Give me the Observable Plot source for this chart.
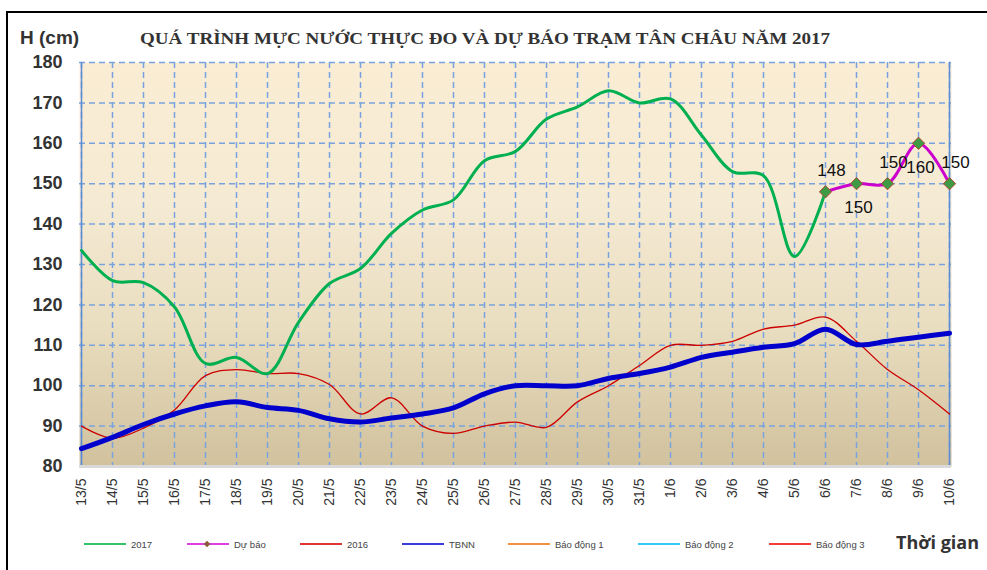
<!DOCTYPE html>
<html><head><meta charset="utf-8">
<script src="https://cdn.jsdelivr.net/npm/d3@7"></script>
<script src="https://cdn.jsdelivr.net/npm/@observablehq/plot@0.6"></script>
<style>body{margin:0;background:#fff;} svg{display:block}</style>
</head><body><div id="chart"></div>
<script>
const dates = ["13/5","14/5","15/5","16/5","17/5","18/5","19/5","20/5","21/5","22/5","23/5","24/5","25/5","26/5","27/5","28/5","29/5","30/5","31/5","1/6","2/6","3/6","4/6","5/6","6/6","7/6","8/6","9/6","10/6"];
const dates2017 = dates.slice(0, 25);
const h2017 = [133.5,126,125.5,119.5,105.5,107,103,115.7,125.3,129,137.7,143.5,146,155.7,158,166,169,173,170,171,162,153,152,132,148];
const forecastDates = ["6/6","7/6","8/6","9/6","10/6"];
const forecast = [148,150,150,160,150];
const h2016 = [90,87,89.5,94,102.5,104,103,103,100.3,93,97,90,88.2,90,91,89.7,96,100,105,110,110,111,114,115,117,111,104,99,93];
const tbnn = [84.4,87.2,90.4,93,95,96,94.6,93.9,91.8,91,92,93,94.5,98,100,100,100,101.8,103,104.6,107,108.3,109.5,110.4,114,110.2,111,112,113];
const yTicks = [80,90,100,110,120,130,140,150,160,170,180];
const legendLabels = ["2017","Dự báo","2016","TBNN","Báo động 1","Báo động 2","Báo động 3"];
const legendColors = ["#33C46A","#E040E0","#E03535","#3B3BD9","#F29240","#33C8F5","#F53A3A"];
const titleText = "QUÁ TRÌNH MỰC NƯỚC THỰC ĐO VÀ DỰ BÁO TRẠM TÂN CHÂU NĂM 2017";

const s2017 = dates2017.map((d,i)=>({d, v:h2017[i]}));
const sF = forecastDates.map((d,i)=>({d, v:forecast[i], i}));
const s2016 = dates.map((d,i)=>({d, v:h2016[i]}));
const sT = dates.map((d,i)=>({d, v:tbnn[i]}));

const gridColor = "#79A2DE";
const svg = Plot.plot({
  width: 987, height: 570,
  marginLeft: 79, marginRight: 36, marginTop: 62, marginBottom: 104,
  style: {fontFamily: "'Liberation Sans', Arial, sans-serif", background: "transparent", overflow: "visible"},
  x: {type: "point", domain: dates, padding: 0, label: null},
  y: {domain: [80,180], label: null},
  marks: [
    Plot.frame({fill: "url(#bgGrad)", stroke: null}),
    Plot.ruleY(yTicks, {stroke: gridColor, strokeWidth: 1.5, strokeDasharray: "6,4"}),
    Plot.ruleX(dates, {stroke: gridColor, strokeWidth: 1.5, strokeDasharray: "6,4"}),
    Plot.ruleX([dates[0], dates[dates.length-1]], {stroke: "#5B8BD6", strokeWidth: 1.5}),
    Plot.ruleY([80], {stroke: "#D9D9D9", strokeWidth: 3}),
    Plot.axisY(yTicks, {tickSize: 0, tickPadding: 17, fontSize: 18, fontWeight: "bold", fill: "#333", label: null}),
    Plot.axisX(dates, {tickSize: 0, tickRotate: -90, tickPadding: 12, fontSize: 14, fill: "#333", label: null}),
    Plot.line(s2016, {x: "d", y: "v", stroke: "#CC0000", strokeWidth: 1.3, curve: "catmull-rom"}),
    Plot.line(sT, {x: "d", y: "v", stroke: "#0000CC", strokeWidth: 5, curve: "catmull-rom"}),
    Plot.line(s2017, {x: "d", y: "v", stroke: "#00B050", strokeWidth: 3, curve: "catmull-rom"}),
    Plot.line(sF, {x: "d", y: "v", stroke: "#CC00CC", strokeWidth: 3, curve: "catmull-rom"}),
    Plot.dot(sF, {x: "d", y: "v", symbol: "diamond2", r: 5.5, fill: "#3E9A45", stroke: "#B4452F", strokeWidth: 1}),
    Plot.text(sF.filter(p => p.i % 2 === 0), {x: "d", y: "v", text: p => String(p.v), dx: 6, dy: -21, fontSize: 17, fill: "#111"}),
    Plot.text(sF.filter(p => p.i % 2 === 1), {x: "d", y: "v", text: p => String(p.v), dx: 2, dy: 24, fontSize: 17, fill: "#111"})
  ]
});
document.getElementById("chart").appendChild(svg);

const s = d3.select(svg);
const defs = s.insert("defs", ":first-child");
const g = defs.append("linearGradient").attr("id","bgGrad").attr("x1",0).attr("y1",0).attr("x2",0).attr("y2",1);
[["0%","#FAEDD4"],["35%","#F5EAD3"],["65%","#E9DEC0"],["100%","#D1C19D"]].forEach(([o,c]) => g.append("stop").attr("offset",o).attr("stop-color",c));

s.append("rect").attr("x",7).attr("y",12).attr("width",1000).attr("height",600).attr("fill","none").attr("stroke","#000").attr("stroke-width",2);

s.append("text").attr("x",485).attr("y",44).attr("text-anchor","middle")
  .attr("font-family","'Liberation Serif','Times New Roman',serif").attr("font-weight","bold").attr("font-size",16)
  .attr("fill","#333").attr("textLength",690).attr("lengthAdjust","spacingAndGlyphs").text(titleText);

s.append("text").attr("x",20).attr("y",44).attr("text-anchor","start").attr("font-family","'Liberation Sans',Arial,sans-serif")
  .attr("font-weight","bold").attr("font-size",19).attr("fill","#333").text("H (cm)");

const lx = [84,187,300,402,508,638,769];
legendLabels.forEach((lab,i) => {
  s.append("line").attr("x1",lx[i]).attr("x2",lx[i]+42).attr("y1",544).attr("y2",544)
    .attr("stroke",legendColors[i]).attr("stroke-width",2);
  if (i === 1) s.append("path").attr("d", d3.symbol(d3.symbolDiamond2, 28)()).attr("transform",`translate(${lx[i]+20},544)`)
    .attr("fill","#8B5A3C");
  s.append("text").attr("x",lx[i]+47).attr("y",547.5).attr("text-anchor","start").attr("font-family","'Liberation Sans',Arial,sans-serif")
    .attr("font-size",9.5).attr("fill","#444").text(lab);
});

s.append("text").attr("x",896).attr("y",549).attr("text-anchor","start").attr("font-family","'Open Sans',sans-serif")
  .attr("font-weight","bold").attr("font-size",18).attr("fill","#333").text("Thời gian");
</script>
</body></html>
